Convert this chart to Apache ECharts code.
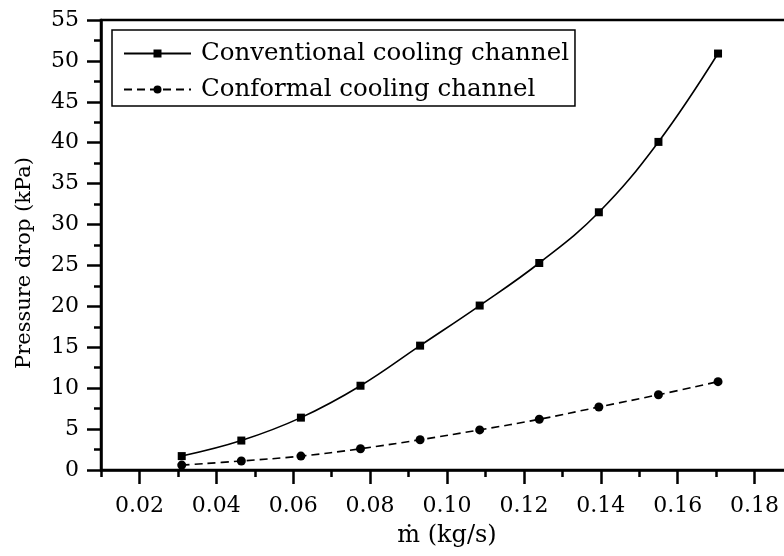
<!DOCTYPE html>
<html>
<head>
<meta charset="utf-8">
<script src="https://cdn.jsdelivr.net/npm/echarts@6/dist/echarts.min.js"></script>
<style>
  html, body { margin: 0; padding: 0; background: #fff; overflow: hidden; }
  #chart { width: 800px; height: 556px; }
</style>
</head>
<body>
<div id="chart"></div>
<script>
// Mass flow rate (kg/s)
const massFlow = [0.031, 0.0465, 0.062, 0.0775, 0.093, 0.1085, 0.124, 0.1395, 0.155, 0.1705];
// Pressure drop (kPa)
const conventional = [1.7, 3.6, 6.4, 10.3, 15.2, 20.1, 25.3, 31.5, 40.1, 50.9];
const conformal = [0.6, 1.1, 1.7, 2.6, 3.7, 4.9, 6.2, 7.7, 9.2, 10.8];

const seriesNames = ['Conventional cooling channel', 'Conformal cooling channel'];

// Axis ticks
const xMajorTicks = [0.02, 0.04, 0.06, 0.08, 0.10, 0.12, 0.14, 0.16, 0.18];
const xMinorTicks = [0.01, 0.03, 0.05, 0.07, 0.09, 0.11, 0.13, 0.15, 0.17, 0.19];
const yTicks = [0, 5, 10, 15, 20, 25, 30, 35, 40, 45, 50, 55];

const FONT = 'DejaVu Serif';
const INK = '#000';

const chart = echarts.init(document.getElementById('chart'), null, { renderer: 'canvas' });

const pairs = (ys) => ys.map((y, i) => [massFlow[i], y]);

chart.setOption({
  backgroundColor: '#fff',
  animation: false,
  grid: {
    left: 101, right: 7, top: 20, bottom: 86,
    show: true, borderColor: INK, borderWidth: 2.5
  },
  legend: {
    orient: 'vertical',
    left: 112, top: 30,
    padding: [11, 6, 4, 11],
    itemWidth: 67, itemHeight: 10, itemGap: 11,
    borderColor: INK, borderWidth: 1.5,
    backgroundColor: '#fff',
    textStyle: { fontFamily: FONT, fontSize: 24.5, color: INK, padding: [0, 0, 0, 5] },
    data: seriesNames
  },
  xAxis: [
    {
      type: 'value', min: 0.01, max: 0.19,
      name: 'ṁ (kg/s)', nameLocation: 'middle', nameGap: 54,
      nameTextStyle: { fontFamily: FONT, fontSize: 24, color: INK },
      axisLine: { show: true, lineStyle: { color: INK, width: 2.5 } },
      axisTick: { show: true, inside: false, length: 14, customValues: xMajorTicks, lineStyle: { color: INK, width: 2.5 } },
      axisLabel: {
        show: true, margin: 25, customValues: xMajorTicks,
        fontFamily: FONT, fontSize: 22, color: INK,
        formatter: (v) => v.toFixed(2)
      },
      splitLine: { show: false }
    },
    {
      type: 'value', min: 0.01, max: 0.19, position: 'bottom',
      axisLine: { show: false },
      axisTick: { show: true, inside: false, length: 7, customValues: xMinorTicks, lineStyle: { color: INK, width: 2.5 } },
      axisLabel: { show: false },
      splitLine: { show: false }
    }
  ],
  yAxis: {
    type: 'value', min: 0, max: 55, interval: 5,
    name: 'Pressure drop (kPa)', nameLocation: 'middle', nameGap: 66,
    nameTextStyle: { fontFamily: FONT, fontSize: 21, color: INK, padding: [0, 36, 0, 0] },
    axisLine: { show: true, lineStyle: { color: INK, width: 2.5 } },
    axisTick: { show: true, inside: false, length: 14, lineStyle: { color: INK, width: 2.5 } },
    minorTick: { show: true, splitNumber: 2, length: 7, lineStyle: { color: INK, width: 2.5 } },
    axisLabel: {
      show: true, margin: 22, customValues: yTicks,
      fontFamily: FONT, fontSize: 22, color: INK
    },
    splitLine: { show: false },
    minorSplitLine: { show: false }
  },
  series: [
    {
      name: seriesNames[0], type: 'line', xAxisIndex: 0,
      data: pairs(conventional),
      smooth: 0.4,
      symbol: 'rect', symbolSize: 8,
      itemStyle: { color: INK },
      lineStyle: { color: INK, width: 1.6, type: 'solid' }
    },
    {
      name: seriesNames[1], type: 'line', xAxisIndex: 0,
      data: pairs(conformal),
      smooth: 0.4,
      symbol: 'circle', symbolSize: 9,
      itemStyle: { color: INK },
      lineStyle: { color: INK, width: 1.6, type: [8, 5] }
    }
  ]
});
</script>
</body>
</html>
